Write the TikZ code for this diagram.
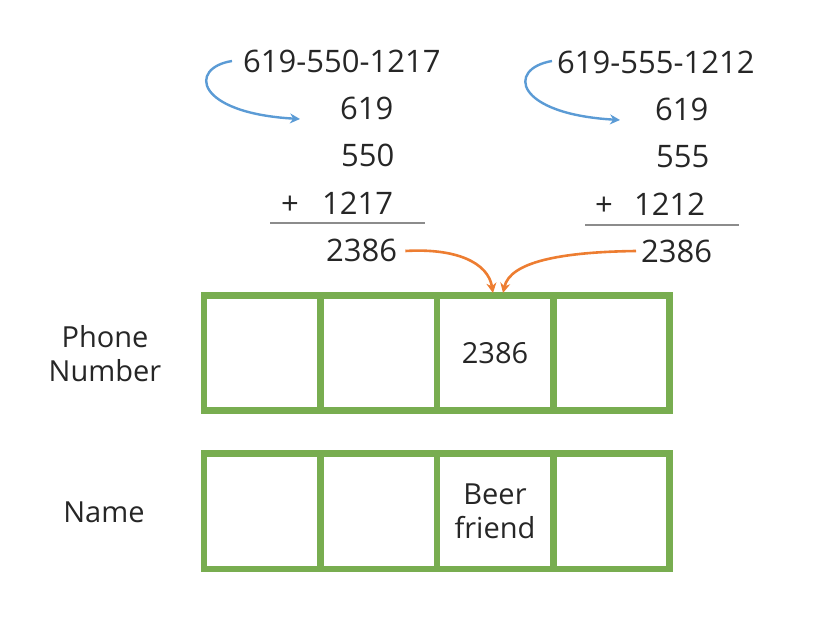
\documentclass[tikz,border=0pt]{standalone}
\usepackage{fontspec}
\setmainfont{Open Sans}
\usetikzlibrary{arrows.meta}
\definecolor{cgreen}{HTML}{78AD50}
\definecolor{cblue}{HTML}{5B9BD5}
\definecolor{corange}{HTML}{ED7D31}
\definecolor{cgray}{HTML}{8C8C8C}
\begin{document}
\begin{tikzpicture}[x=1pt,y=-1pt,
  txt/.style={inner sep=0pt,anchor=base west,font=\fontsize{31}{35}\selectfont,text=black!85},
  lbl/.style={inner sep=0pt,align=center,font=\fontsize{29}{34}\selectfont,text=black!85},
  cell/.style={draw=cgreen,line width=6.5pt,minimum width=116.5pt,inner sep=0pt},
  bluearr/.style={draw=cblue,line width=2.4pt,-{Stealth[length=10pt,width=10pt]}},
  orangearr/.style={draw=corange,line width=2.6pt,-{Stealth[length=10pt,width=10pt]}},
  sumline/.style={draw=cgray,line width=1.3pt}]
\useasboundingbox (0,0) rectangle (840,626);
% left computation
\node[txt] (a0) at (243,73) {619-550-1217};
\node[txt] (a1) at (340,119) {619};
\node[txt] (a2) at (341,166) {550};
\node[txt] (ap) at (281,214) {+};
\node[txt] (a3) at (322,214) {1217};
\node[txt] (a4) at (326,261) {2386};
\coordinate (la) at (270,223);
\coordinate (lb) at (425,223);
\draw[sumline] (la) -- (lb);
% right computation
\node[txt] (b0) at (557,74) {619-555-1212};
\node[txt] (b1) at (655,120) {619};
\node[txt] (b2) at (656,167) {555};
\node[txt] (bp) at (595,215) {+};
\node[txt] (b3) at (634,215) {1212};
\node[txt] (b4) at (641,262) {2386};
\coordinate (ra) at (585,225);
\coordinate (rb) at (739,225);
\draw[sumline] (ra) -- (rb);
% tables
\foreach \i/\x in {1/262,2/378.75,3/495,4/611.25}{
  \node[cell,minimum height=115pt] (p\i) at (\x,353) {};
  \node[cell,minimum height=115.5pt] (n\i) at (\x,511.25) {};
}
\node[lbl] (t1) at (495,353) {2386};
\node[lbl] (t2) at (495,511) {Beer\\friend};
\node[lbl] (phone) at (105,354) {Phone\\Number};
\node[lbl] (name) at (104,512) {Name};
% blue arrows
\coordinate (ae) at (300,119);
\coordinate (be) at (620,120);
\draw[bluearr] ([xshift=-11pt,yshift=12pt]a0.base west) .. controls (188,68) and (195,113) .. (ae);
\draw[bluearr] ([xshift=-5pt,yshift=13pt]b0.base west) .. controls (506,69) and (515,114) .. (be);
% orange arrows
\coordinate (ta) at (493,293);
\coordinate (tb) at (503,293);
\draw[orangearr] ([xshift=8pt,yshift=10pt]a4.base east) .. controls (455,248) and (488,262) .. (ta);
\draw[orangearr] ([xshift=-5pt,yshift=11pt]b4.base west) .. controls (560,252) and (510,262) .. (tb);
\end{tikzpicture}
\end{document}
